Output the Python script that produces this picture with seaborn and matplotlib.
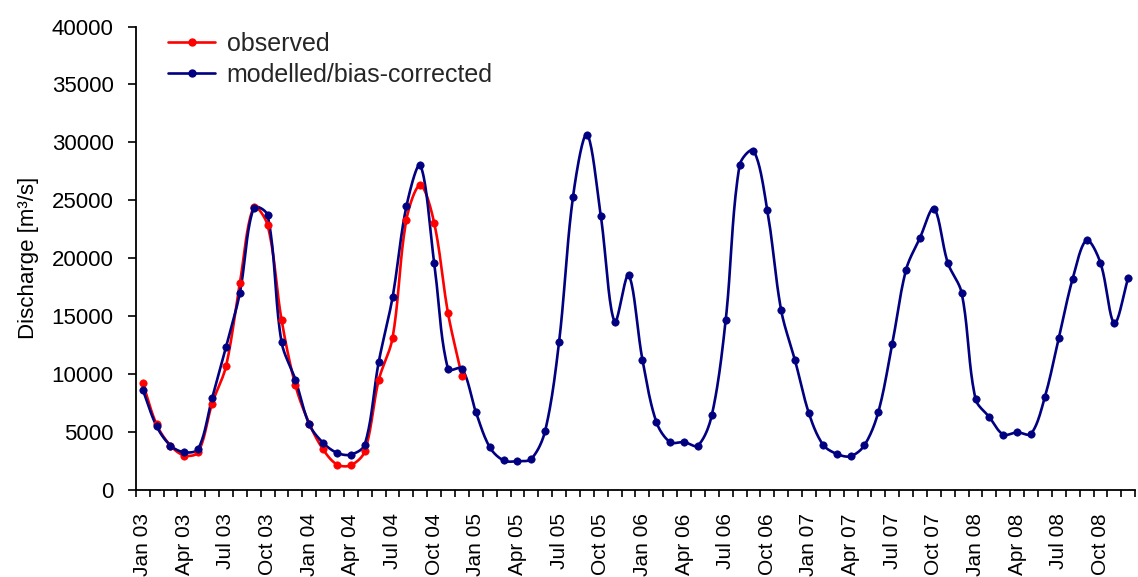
import numpy as np
import pandas as pd
import matplotlib
matplotlib.use("Agg")
import matplotlib.pyplot as plt
from matplotlib.lines import Line2D
from matplotlib.ticker import FixedLocator, NullFormatter
import seaborn as sns

# Monthly discharge, Jan 2003 - Dec 2008
month_names = ["Jan", "Feb", "Mar", "Apr", "May", "Jun",
               "Jul", "Aug", "Sep", "Oct", "Nov", "Dec"]
years = ["03", "04", "05", "06", "07", "08"]
months = [f"{m} {y}" for y in years for m in month_names]

observed = [
    9220, 5620, 3800, 2940, 3230, 7430, 10650, 17860, 24390, 22840, 14690, 9010,
    5700, 3460, 2160, 2100, 3310, 9440, 13100, 23330, 26300, 23040, 15210, 9790,
]

modelled = [
    8640, 5470, 3800, 3220, 3510, 7890, 12300, 17000, 24340, 23700, 12760, 9500,
    5620, 4030, 3170, 3020, 3890, 11000, 16600, 24480, 28000, 19590, 10400, 10450,
    6710, 3660, 2510, 2450, 2650, 5100, 12790, 25290, 30670, 23670, 14490, 18520,
    11230, 5850, 4090, 4100, 3800, 6420, 14630, 28020, 29290, 24130, 15470, 11150,
    6570, 3890, 3080, 2880, 3830, 6710, 12590, 19010, 21750, 24280, 19590, 16990,
    7830, 6250, 4750, 4950, 4810, 8010, 13100, 18230, 21540, 19590, 14400, 18290,
]

tick_every = 3


def smooth_curve(x, y, sx=13.9, sy=1 / 86.4, steps=20):
    """Smoothed line: cubic Bezier segments whose control arms are weighted by
    neighbouring segment lengths (measured in display-like units)."""
    P = np.column_stack([np.asarray(x, float) * sx, np.asarray(y, float) * sy])
    n = len(P)
    ext = np.vstack([P[0], P, P[-1]])
    d = np.linalg.norm(np.diff(ext, axis=0), axis=1)  # d[i] = |ext[i+1]-ext[i]|
    t = np.linspace(0, 1, steps, endpoint=False)[:, None]
    out = []
    for i in range(n - 1):
        p0, p1, p2, p3 = ext[i], ext[i + 1], ext[i + 2], ext[i + 3]
        d01, d12, d23 = d[i], d[i + 1], d[i + 2]
        w1 = d12 / (d01 + d12) if d01 + d12 > 0 else 0.5
        w2 = d12 / (d12 + d23) if d12 + d23 > 0 else 0.5
        c1 = p1 + (p2 - p0) * w1 / 3.0
        c2 = p2 - (p3 - p1) * w2 / 3.0
        seg = ((1 - t) ** 3) * p1 + 3 * ((1 - t) ** 2) * t * c1 \
            + 3 * (1 - t) * (t ** 2) * c2 + (t ** 3) * p2
        out.append(seg)
    out.append(P[-1][None, :])
    out = np.vstack(out)
    return out[:, 0] / sx, out[:, 1] / sy


sns.set_theme(style="white")
plt.rcParams["font.family"] = ["Liberation Sans", "DejaVu Sans"]

fig = plt.figure(figsize=(11.38, 5.77), dpi=100)
ax = fig.add_axes([0.1193, 0.1516, 0.8782, 0.8023])

series = [
    ("observed", observed, "#FF0000"),
    ("modelled/bias-corrected", modelled, "#000080"),
]

for name, vals, color in series:
    idx = np.arange(len(vals))
    cx, cy = smooth_curve(idx, vals)
    curve = pd.DataFrame({"x": cx, "y": cy})
    pts = pd.DataFrame({"x": idx, "y": vals})
    sns.lineplot(data=curve, x="x", y="y", ax=ax, color=color, lw=1.9,
                 sort=False, estimator=None)
    sns.scatterplot(data=pts, x="x", y="y", ax=ax, color=color, s=28,
                    edgecolor=color, linewidth=0.5, zorder=3)

ax.set_xlim(-0.5, len(months) - 0.5)
ax.set_ylim(0, 40000)
ax.set_yticks(np.arange(0, 40001, 5000))
ax.set_yticklabels([str(v) for v in range(0, 40001, 5000)])

label_pos = np.arange(0, len(months), tick_every)
ax.set_xticks(label_pos)
ax.set_xticklabels([months[i] for i in label_pos], rotation=90)
ax.xaxis.set_minor_locator(FixedLocator(np.arange(-0.5, len(months), 1.0)))
ax.xaxis.set_minor_formatter(NullFormatter())

ax.tick_params(axis="x", which="major", length=0, pad=17, labelsize=15,
               labelcolor="black")
ax.tick_params(axis="x", which="minor", length=5, width=1.2, color="black",
               direction="out", bottom=True)
ax.tick_params(axis="y", which="major", length=6, width=1.2, color="black",
               direction="out", left=True, pad=10, labelsize=16,
               labelcolor="black")

for side in ("top", "right"):
    ax.spines[side].set_visible(False)
for side in ("left", "bottom"):
    ax.spines[side].set_color("black")
    ax.spines[side].set_linewidth(1.3)

ax.set_xlabel("")
ax.set_ylabel("Discharge [m³/s]", fontsize=16, color="black", labelpad=9)
ax.grid(False)

handles = [Line2D([0], [0], color=c, lw=1.9, marker="o", markersize=5)
           for _, _, c in series]
ax.legend(handles, [n for n, _, _ in series], loc="upper left",
          bbox_to_anchor=(0.022, 1.011), frameon=False, fontsize=18,
          handlelength=1.9, handletextpad=0.45, labelspacing=0.3,
          borderaxespad=0.0)

fig.savefig("out.png", dpi=100, facecolor="white")
